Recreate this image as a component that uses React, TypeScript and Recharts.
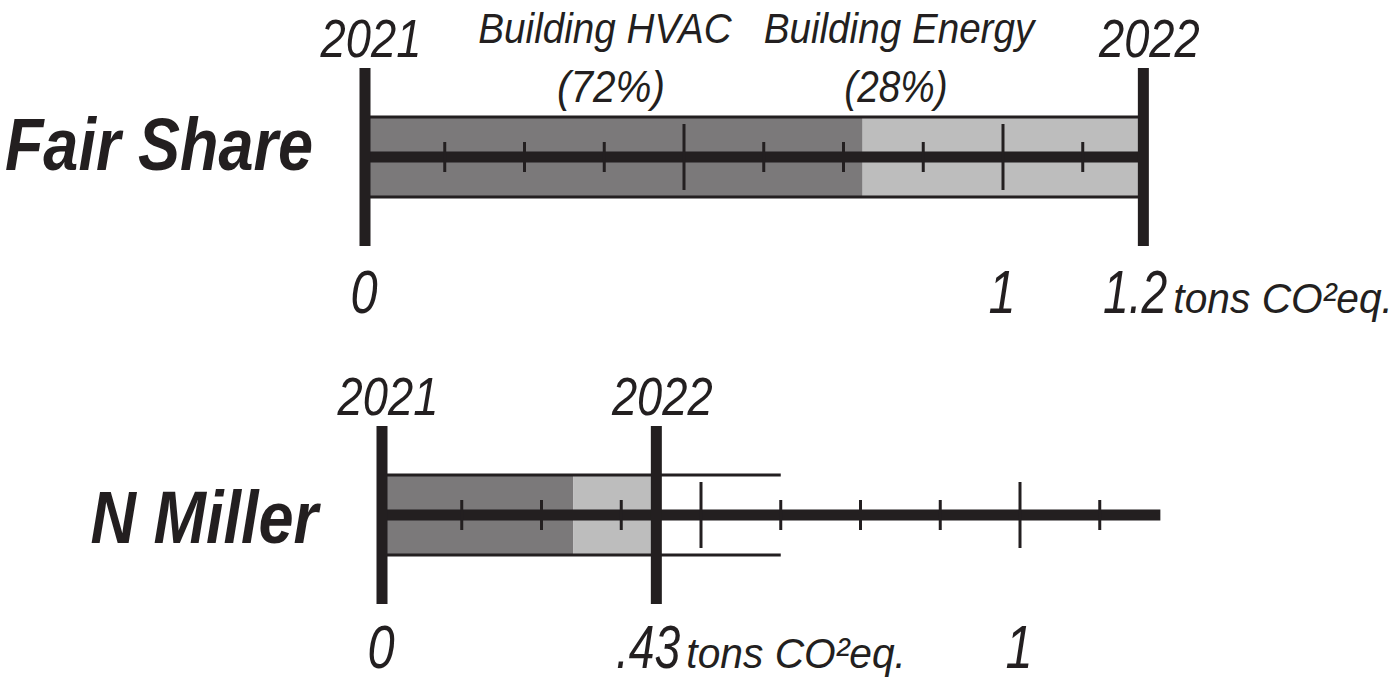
import React from 'react'
import { ComposedChart, Bar, XAxis, YAxis, ReferenceLine } from 'recharts'

const INK = '#231f20'
const DARK = '#7b797a'
const LIGHT = '#bdbdbd'
const FONT = '"Liberation Sans", Arial, sans-serif'

// one entry per row
const names = ['Fair Share', 'N Miller']
const hvac = [0.78, 0.3]
const energy = [0.44, 0.13]
const frameEnd = [1.22, 0.625]
const axisEnd = [1.22, 1.22]
const axisTicks = [[0, 1, 1.22], [0, 0.43, 1]]
const axisTickText = [['0', '1', '1.2'], ['0', '.43', '1']]
const unitAt = [2, 1] // which tick label carries the unit
const UNIT = 'tons CO²eq.'

const scaleTicks = [0.125, 0.25, 0.375, 0.5, 0.625, 0.75, 0.875, 1, 1.125]
const majorTicks = [0.5, 1]
const years = ['2021', '2022']
const shareNames = ['Building HVAC', 'Building Energy']
const sharePct = ['(72%)', '(28%)']

const rowLayout = [
  { top: 0, height: 340, mt: 68, mb: 14, xh: 80, yw: 365, mr: 72, titleX: 313, titleDy: 13, labelDy: 59 },
  { top: 340, height: 341, mt: 86, mb: 7, xh: 70, yw: 382, mr: 55, titleX: 318, titleDy: 28, labelDy: 56 },
]

function Cond({ x, y, sx = 0.84, size, weight = 'normal', anchor = 'middle', children }: any) {
  return (
    <text
      transform={`translate(${x},${y}) scale(${sx},1)`}
      textAnchor={anchor}
      fontFamily={FONT}
      fontStyle="italic"
      fontWeight={weight}
      fontSize={size}
      fill={INK}
    >
      {children}
    </text>
  )
}

function YearLabel({ viewBox, text }: any) {
  if (!viewBox) return null
  return <Cond x={viewBox.x + 6} y={viewBox.y - 11} size={54}>{text}</Cond>
}

function AxisTick({ x, y, index, row }: any) {
  const label = axisTickText[row][index]
  const base = y + rowLayout[row].labelDy
  if (index === unitAt[row]) {
    return (
      <g>
        <Cond x={x + 24} y={base} size={61} sx={0.76} anchor="end">{label}</Cond>
        <Cond x={x + 30} y={base} size={42} sx={0.97} anchor="start">{UNIT}</Cond>
      </g>
    )
  }
  return <Cond x={x - 1} y={base} size={61} sx={0.8}>{label}</Cond>
}

function TitleTick({ y, payload, row }: any) {
  const L = rowLayout[row]
  return (
    <Cond x={L.titleX} y={y + L.titleDy} size={75} sx={0.84} weight="bold" anchor="end">
      {payload.value}
    </Cond>
  )
}

// short vertical tick centred on the bar, drawn at the library's x position
const tickShape = (half: number) => (p: any) => {
  const cy = (p.y1 + p.y2) / 2
  return <line x1={p.x1} x2={p.x2} y1={cy - half} y2={cy + half} stroke={INK} strokeWidth={3} />
}

// thin top and bottom edges of the bar frame
const frameShape = (p: any) => (
  <g>
    <line x1={p.x1} x2={p.x2} y1={p.y1 - 40} y2={p.y2 - 40} stroke={INK} strokeWidth={3} />
    <line x1={p.x1} x2={p.x2} y1={p.y1 + 40} y2={p.y2 + 40} stroke={INK} strokeWidth={3} />
  </g>
)

function Row({ i }: { i: number }) {
  const L = rowLayout[i]
  const data = [{ name: names[i], hvac: hvac[i], energy: energy[i] }]
  const total = hvac[i] + energy[i]
  return (
    <div style={{ position: 'absolute', left: 0, top: L.top }}>
      <ComposedChart
        width={1394}
        height={L.height}
        layout="vertical"
        data={data}
        margin={{ top: L.mt, right: L.mr, bottom: L.mb, left: 0 }}
      >
        <XAxis
          type="number"
          domain={[0, 1.5]}
          allowDataOverflow
          ticks={axisTicks[i]}
          interval={0}
          axisLine={false}
          tickLine={false}
          height={L.xh}
          tick={(p: any) => <AxisTick {...p} row={i} />}
        />
        <YAxis
          type="category"
          dataKey="name"
          width={L.yw}
          axisLine={false}
          tickLine={false}
          tick={(p: any) => <TitleTick {...p} row={i} />}
        />
        <Bar dataKey="hvac" stackId="s" fill={DARK} barSize={80} isAnimationActive={false} />
        <Bar dataKey="energy" stackId="s" fill={LIGHT} barSize={80} isAnimationActive={false} />
        <ReferenceLine
          segment={[{ x: 0, y: names[i] }, { x: frameEnd[i], y: names[i] }]}
          shape={frameShape}
        />
        <ReferenceLine
          segment={[{ x: 0, y: names[i] }, { x: axisEnd[i], y: names[i] }]}
          stroke={INK}
          strokeWidth={11}
        />
        {scaleTicks.map((t) => (
          <ReferenceLine key={'t' + t} x={t} shape={tickShape(majorTicks.includes(t) ? 33 : 15)} />
        ))}
        <ReferenceLine
          x={0}
          stroke={INK}
          strokeWidth={11}
          label={(p: any) => <YearLabel {...p} text={years[0]} />}
        />
        <ReferenceLine
          x={total}
          stroke={INK}
          strokeWidth={11}
          label={(p: any) => <YearLabel {...p} text={years[1]} />}
        />
      </ComposedChart>
    </div>
  )
}

export default function App() {
  return (
    <div style={{ position: 'absolute', left: 0, top: 0, width: 1394, height: 681, overflow: 'hidden', background: '#fff' }}>
      <Row i={0} />
      <Row i={1} />
      <svg width={1394} height={681} style={{ position: 'absolute', left: 0, top: 0, pointerEvents: 'none' }}>
        <Cond x={605} y={43} size={42} sx={0.92}>{shareNames[0]}</Cond>
        <Cond x={611} y={102} size={44} sx={0.92}>{sharePct[0]}</Cond>
        <Cond x={899} y={43} size={42} sx={0.92}>{shareNames[1]}</Cond>
        <Cond x={896} y={102} size={44} sx={0.88}>{sharePct[1]}</Cond>
      </svg>
    </div>
  )
}
